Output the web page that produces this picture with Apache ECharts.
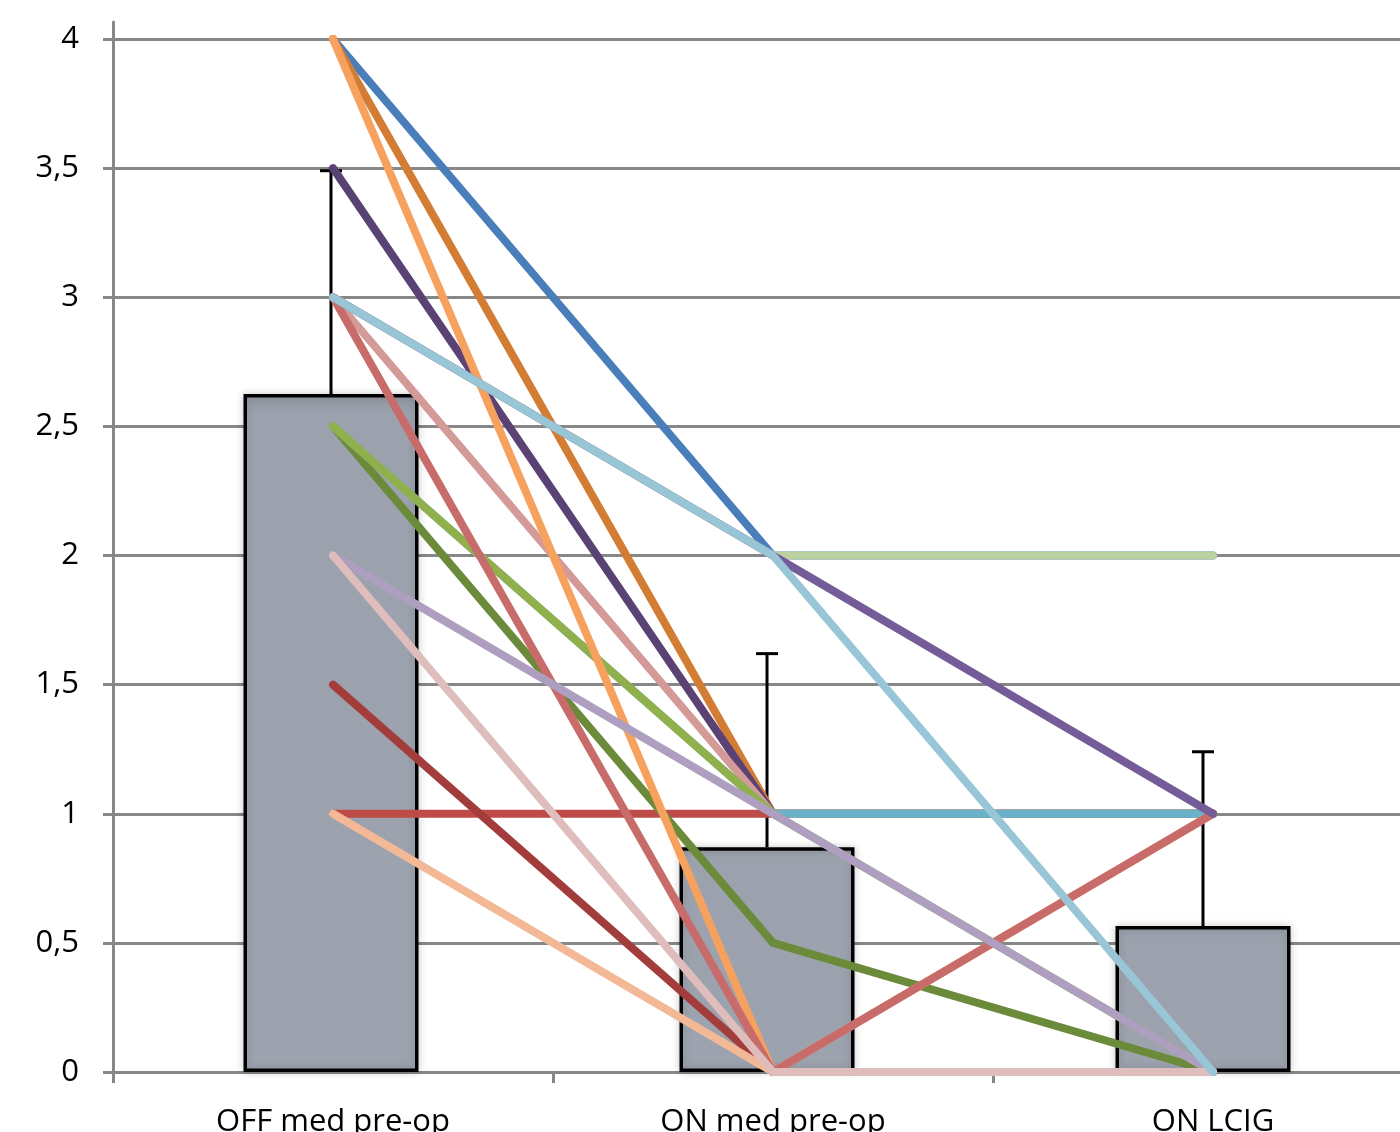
<!DOCTYPE html>
<html>
<head>
<meta charset="utf-8">
<script src="https://cdn.jsdelivr.net/npm/echarts@6/dist/echarts.min.js"></script>
<style>
  html, body { margin: 0; padding: 0; background: #fff; }
  #chart { width: 1400px; height: 1132px; }
</style>
</head>
<body>
<div id="chart"></div>
<script>
// ---------- data ----------
const categories = ['OFF med pre-op', 'ON med pre-op', 'ON LCIG'];
const yTickLabels = ['0', '0,5', '1', '1,5', '2', '2,5', '3', '3,5', '4'];
const barMeans = [2.625, 0.87, 0.565];
const barErrTops = [3.49, 1.62, 1.24];

// individual patients (OFF, ON med, ON LCIG), in drawing order
const p01 = [4, 2, 2];
const p02 = [1, 1, 1];
const p03 = [4, 1, 1];
const p04 = [3.5, 1, 1];
const p05 = [3, 1, 1];
const p06 = [2.5, 0.5, 0];
const p07 = [2.5, 1, 1];
const p08 = [2.5, 1, 0];
const p09 = [1.5, 0, 0];
const p10 = [1, 0, 0];
const p11 = [4, 0, 1];
const p12 = [3, 0, 1];
const p13 = [2, 1, 0];
const p14 = [2, 0, 0];
const p15 = [3, 2, 2];
const p16 = [3, 2, 1];
const p17 = [3, 2, 0];
const patients = [p01, p02, p03, p04, p05, p06, p07, p08, p09, p10, p11, p12, p13, p14, p15, p16, p17];

// ---------- styles ----------
const lineColors = [
  '#4a7ebb', '#bf4b48', '#d37c33', '#5b4275', '#d39a98', '#6b8a3a',
  '#6ab2c8', '#90b04c', '#a33d3c', '#f3b996', '#f7a15f', '#c86b6b',
  '#ae9fc0', '#dfbdbd', '#bcd1a0', '#745c98', '#98c6d6'
];
const FONT = '"Open Sans", "Noto Sans", sans-serif';
const GRID_GRAY = '#878787';

const chart = echarts.init(document.getElementById('chart'), null, { renderer: 'canvas' });

const lineSeries = patients.map((vals, i) => ({
  type: 'line',
  xAxisIndex: 1,
  yAxisIndex: 1,
  data: vals,
  showSymbol: false,
  symbol: 'none',
  silent: true,
  animation: false,
  lineStyle: { color: lineColors[i], width: 8, cap: 'round', join: 'round' },
  z: 5
}));

const gridBase = { containLabel: false, outerBoundsMode: 'none' };

const option = {
  animation: false,
  backgroundColor: '#fff',
  grid: [
    Object.assign({ left: 113, top: 39, width: 1308, height: 1033 }, gridBase),   // bars
    Object.assign({ left: 113, top: 39, width: 1320, height: 1033 }, gridBase),   // patient lines + labels
    Object.assign({ left: 113, top: 22, width: 10, height: 1050 }, gridBase)      // y axis line
  ],
  xAxis: [
    { type: 'category', gridIndex: 0, data: categories, show: false, boundaryGap: true },
    {
      type: 'category', gridIndex: 1, data: categories, boundaryGap: true,
      axisLine: { show: true, lineStyle: { color: GRID_GRAY, width: 3 } },
      axisTick: { show: true, length: 11, lineStyle: { color: GRID_GRAY, width: 3 } },
      axisLabel: { color: '#000', fontFamily: FONT, fontSize: 31, margin: 35 }
    },
    { type: 'category', gridIndex: 2, data: ['a'], show: false }
  ],
  yAxis: [
    {
      type: 'value', gridIndex: 0, min: 0, max: 4, interval: 0.5,
      axisLine: { show: false },
      axisTick: { show: true, length: 10, lineStyle: { color: GRID_GRAY, width: 3 } },
      splitLine: { show: true, lineStyle: { color: GRID_GRAY, width: 3 } },
      axisLabel: {
        color: '#000', fontFamily: FONT, fontSize: 31, margin: 34,
        formatter: (v, idx) => yTickLabels[idx] !== undefined ? yTickLabels[idx] : String(v).replace('.', ',')
      }
    },
    { type: 'value', gridIndex: 1, min: 0, max: 4, interval: 0.5, show: false },
    {
      type: 'value', gridIndex: 2, min: 0, max: 1, position: 'left',
      axisLine: { show: true, lineStyle: { color: GRID_GRAY, width: 3 } },
      axisTick: { show: false }, axisLabel: { show: false }, splitLine: { show: false }
    }
  ],
  series: [
    {
      type: 'bar', xAxisIndex: 0, yAxisIndex: 0, data: barMeans, barWidth: 175,
      silent: true,
      itemStyle: {
        color: {
          type: 'linear', x: 0, y: 0, x2: 0, y2: 1,
          colorStops: [
            { offset: 0, color: '#8f97a2' },
            { offset: 0.03, color: '#9ba2ad' },
            { offset: 1, color: '#9ca3ae' }
          ]
        },
        borderColor: '#000', borderWidth: 3.5,
        shadowColor: 'rgba(0,0,0,0.18)', shadowBlur: 8
      },
      z: 2
    },
    {
      type: 'custom', xAxisIndex: 0, yAxisIndex: 0, silent: true,
      data: barMeans.map((m, i) => [i, m, barErrTops[i]]),
      renderItem: (params, api) => {
        const x = api.value(0);
        const base = api.coord([x, api.value(1)]);
        const top = api.coord([x, api.value(2)]);
        const half = 11;
        return {
          type: 'group',
          children: [
            { type: 'line', shape: { x1: base[0], y1: base[1], x2: top[0], y2: top[1] },
              style: { stroke: '#000', lineWidth: 3 } },
            { type: 'line', shape: { x1: top[0] - half, y1: top[1], x2: top[0] + half, y2: top[1] },
              style: { stroke: '#000', lineWidth: 3 } }
          ]
        };
      },
      z: 3
    },
    ...lineSeries
  ]
};

chart.setOption(option);
</script>
</body>
</html>
